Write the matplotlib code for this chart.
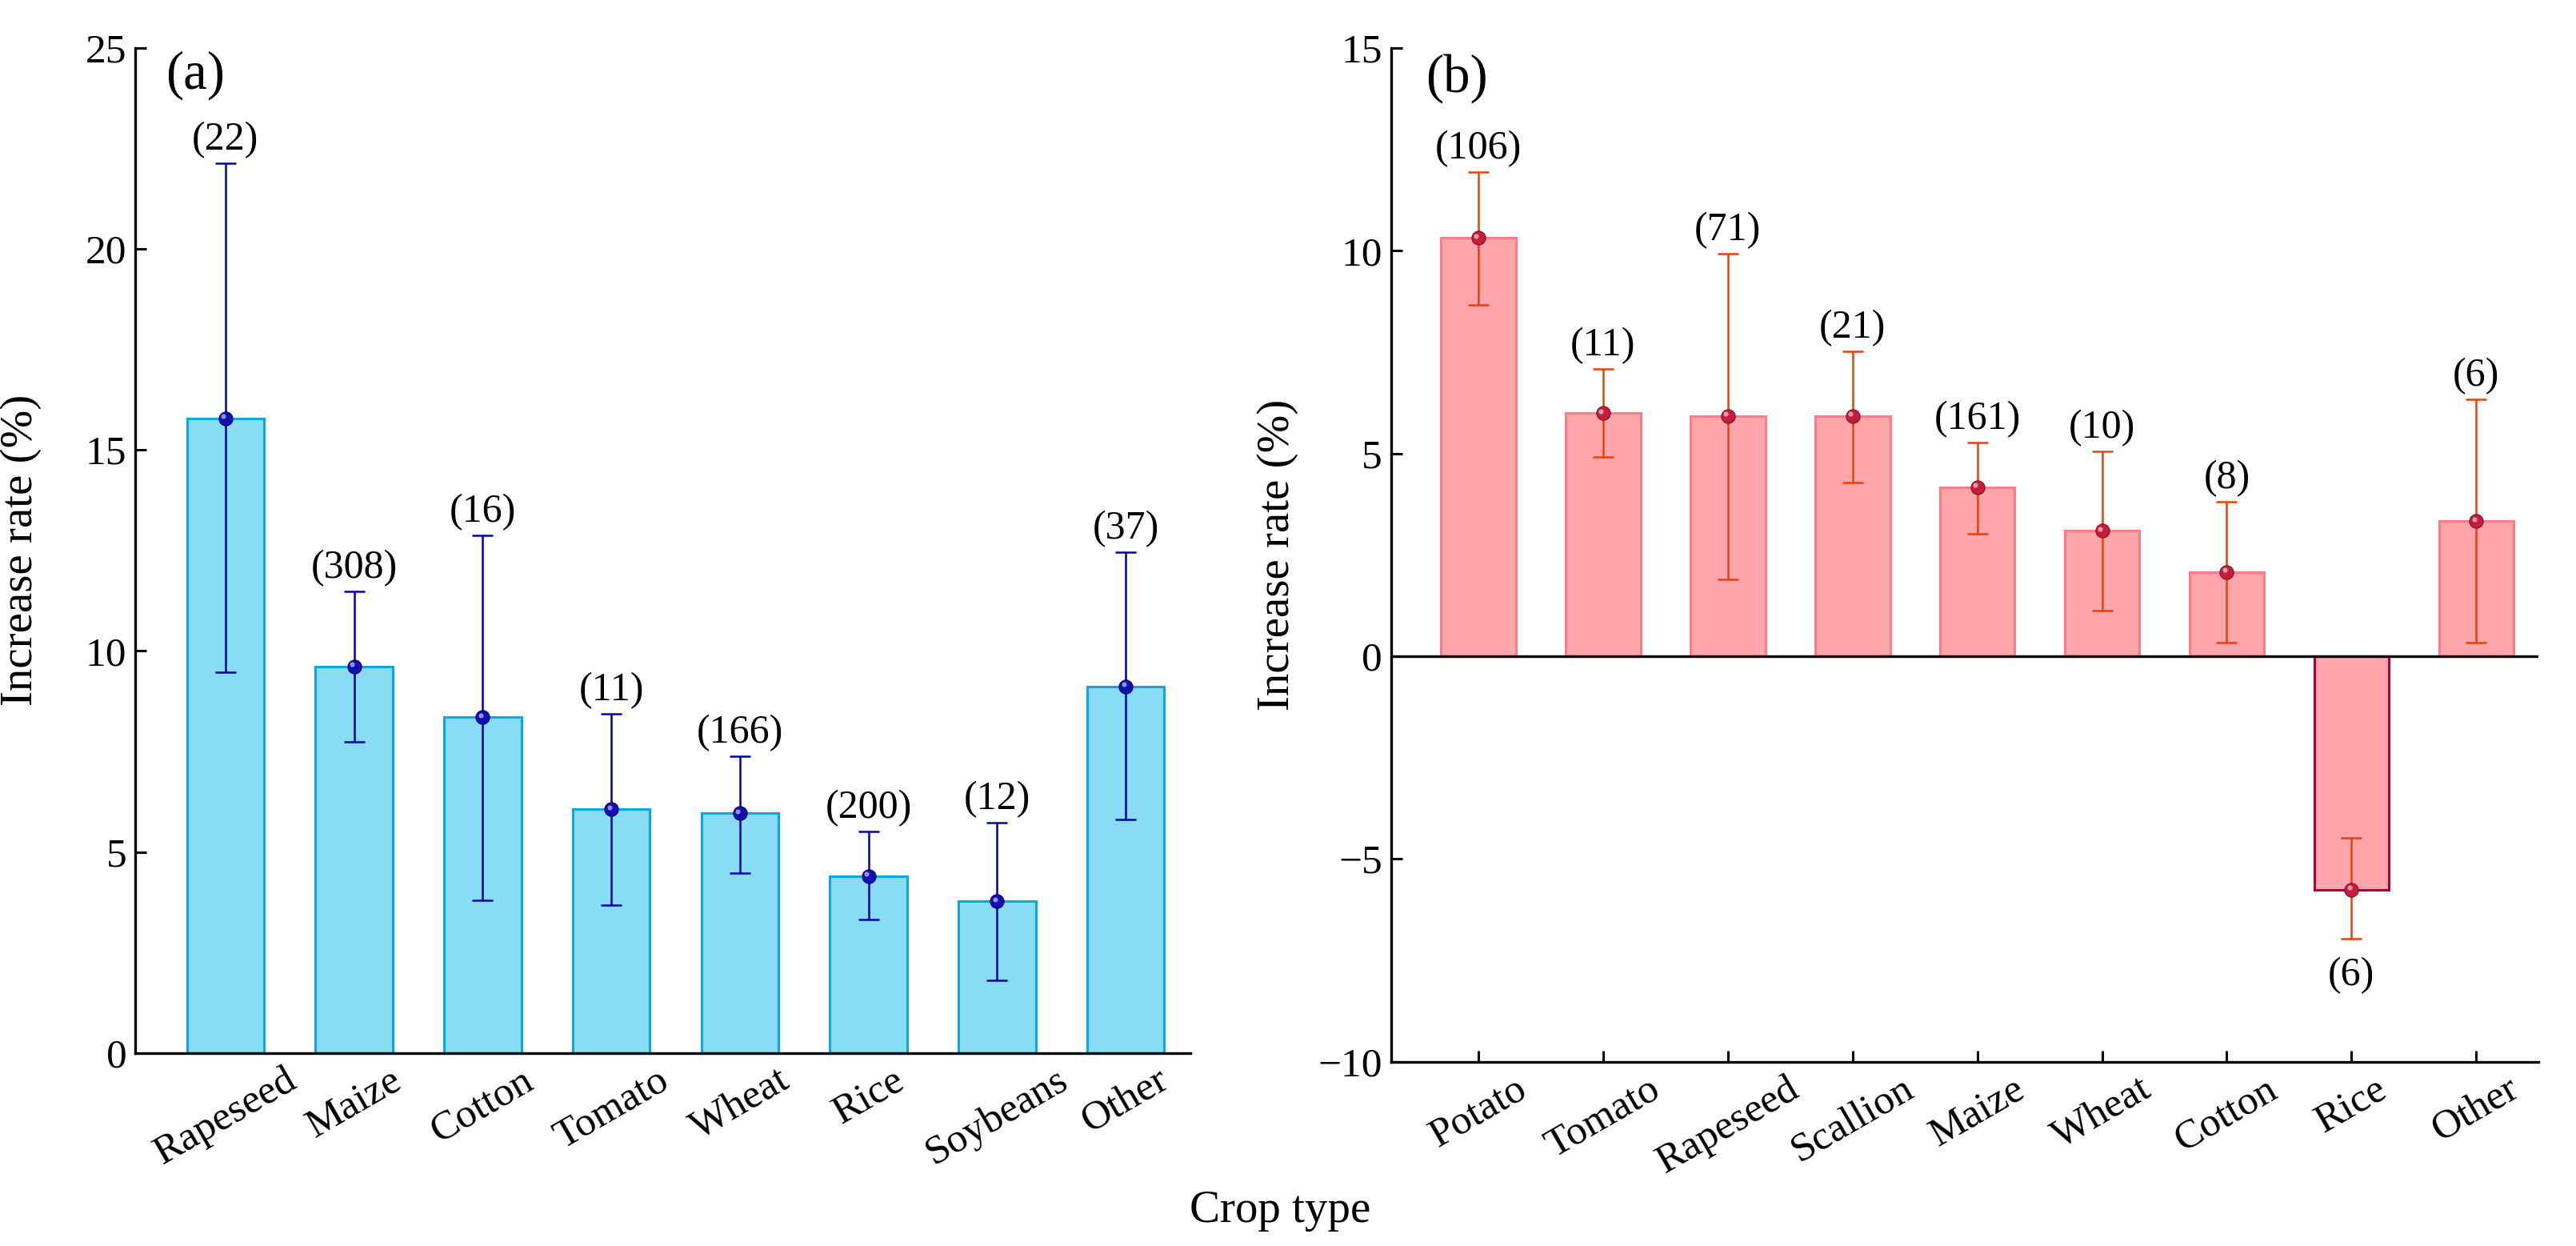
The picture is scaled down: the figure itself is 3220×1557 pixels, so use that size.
import numpy as np
import matplotlib
matplotlib.use("Agg")
import matplotlib.pyplot as plt
from matplotlib.transforms import offset_copy

plt.rcParams['font.family'] = ['Liberation Serif', 'DejaVu Serif']
plt.rcParams['mathtext.fontset'] = 'stix'

# (a) increase rate by crop type
crops_a = ["Rapeseed", "Maize", "Cotton", "Tomato", "Wheat", "Rice", "Soybeans", "Other"]
mean_a = [15.79, 9.61, 8.35, 6.06, 5.96, 4.40, 3.77, 9.12]
lo_a = [9.47, 7.73, 3.79, 3.67, 4.48, 3.31, 1.80, 5.80]
hi_a = [22.14, 11.48, 12.87, 8.43, 7.38, 5.51, 5.72, 12.45]
n_a = [22, 308, 16, 11, 166, 200, 12, 37]

# (b)
crops_b = ["Potato", "Tomato", "Rapeseed", "Scallion", "Maize", "Wheat", "Cotton", "Rice", "Other"]
mean_b = [10.32, 5.99, 5.92, 5.92, 4.17, 3.09, 2.08, -5.76, 3.33]
lo_b = [8.66, 4.92, 1.90, 4.29, 3.02, 1.12, 0.33, -6.97, 0.33]
hi_b = [11.93, 7.09, 9.93, 7.52, 5.27, 5.05, 3.80, -4.49, 6.33]
n_b = [106, 11, 71, 21, 161, 10, 8, 6, 6]

fig = plt.figure(figsize=(16.1, 7.785), dpi=200)
ax1 = fig.add_axes([0.0526, 0.155, 0.4094, 0.8065])
ax2 = fig.add_axes([0.540, 0.148, 0.4455, 0.8135])


def draw(ax, crops, mean, lo, hi, n, fill, edge, ecol, mcol, medge):
    x = np.arange(len(crops))
    mean = np.array(mean)
    lo = np.array(lo)
    hi = np.array(hi)
    ax.bar(x, mean, width=0.6, color=fill, edgecolor=edge, linewidth=1.1, zorder=2)
    ax.errorbar(x, mean, yerr=[mean - lo, hi - mean], fmt='none', ecolor=ecol,
                elinewidth=0.9, capsize=4.6, capthick=0.9, zorder=3)
    ax.plot(x, mean, 'o', color=mcol, markeredgecolor=medge, markeredgewidth=0.4,
            markersize=6.2, zorder=4)
    # small highlight on the sphere markers
    tr = offset_copy(ax.transData, fig=fig, x=-0.9, y=0.9, units='points')
    ax.plot(x, mean, 'o', color='white', alpha=0.55, markersize=2.2,
            markeredgewidth=0, transform=tr, zorder=5)
    for xi, m, l, h, k in zip(x, mean, lo, hi, n):
        if m >= 0:
            ax.annotate(f"({k})", (xi, h), xytext=(0, 10.5), textcoords='offset points',
                        ha='center', va='center', fontsize=18)
        else:
            ax.annotate(f"({k})", (xi, l), xytext=(0, -16.5), textcoords='offset points',
                        ha='center', va='center', fontsize=18)
    ax.set_xticks(x)
    ax.set_xticklabels(crops, rotation=30, ha='center', fontsize=19)
    ax.set_xlim(-0.7, len(crops) - 0.5)
    ax.spines['top'].set_visible(False)
    ax.spines['right'].set_visible(False)
    for s in ['left', 'bottom']:
        ax.spines[s].set_linewidth(1.2)
    ax.tick_params(direction='in', length=5, width=1.1, labelsize=18.5, pad=4)
    ax.set_ylabel("Increase rate (%)", fontsize=20.5)


draw(ax1, crops_a, mean_a, lo_a, hi_a, n_a,
     '#88DCF4', '#0AA8E2', '#0000A8', '#1010B0', '#000070')
ax1.set_ylim(0, 25)
ax1.set_yticks(np.arange(0, 26, 5))
ax1.yaxis.set_label_coords(-0.0888, 0.5)
ax1.text(0.029, 0.973, "(a)", transform=ax1.transAxes, fontsize=24, va='center', ha='left')

draw(ax2, crops_b, mean_b, lo_b, hi_b, n_b,
     '#FFA6AD', '#FF7B88', '#E2420E', '#C41E3C', '#8A0A25')
ax2.patches[7].set_edgecolor('#B0003C')
ax2.set_ylim(-10, 15)
ax2.set_yticks(np.arange(-10, 16, 5))
ax2.axhline(0, color='black', linewidth=1.2, zorder=3)
ax2.yaxis.set_label_coords(-0.0806, 0.5)
ax2.text(0.030, 0.970, "(b)", transform=ax2.transAxes, fontsize=24, va='center', ha='left')

fig.text(0.497, 0.028, "Crop type", ha='center', va='center', fontsize=20.5)

fig.savefig("out.png", dpi=200)
